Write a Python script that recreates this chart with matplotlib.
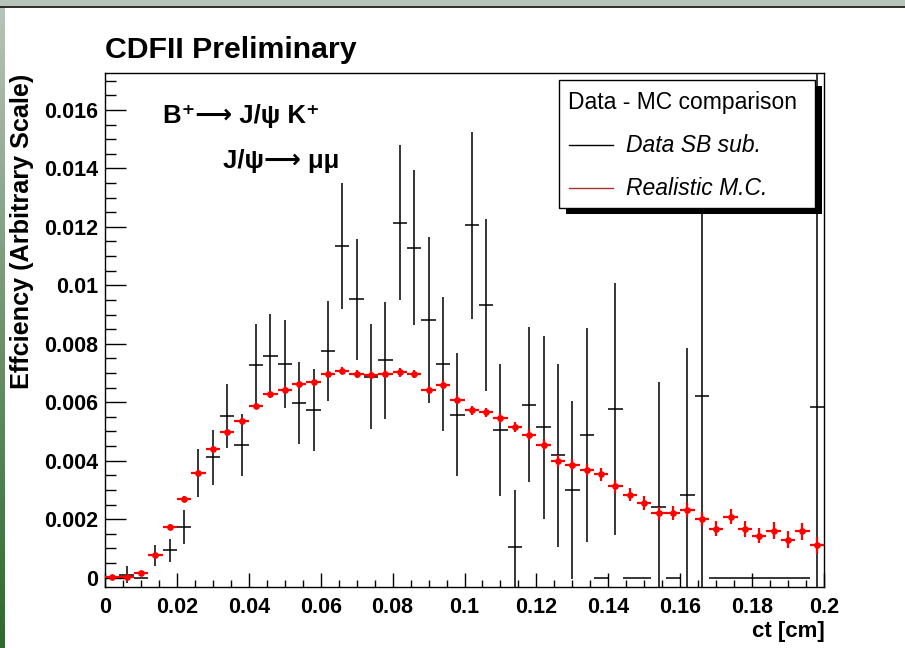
import matplotlib.pyplot as plt
import numpy as np
from matplotlib.ticker import MultipleLocator, FuncFormatter
from matplotlib.patches import Rectangle
from matplotlib.lines import Line2D
from matplotlib.colors import LinearSegmentedColormap

plt.rcParams['font.family'] = ['Liberation Sans', 'DejaVu Sans']

W, H = 905, 648

# 50 bins of ct between 0 and 0.2 cm
bin_edges = np.linspace(0, 0.2, 51)
ct = 0.5 * (bin_edges[:-1] + bin_edges[1:])
half_bin = 0.5 * (bin_edges[1] - bin_edges[0])

data_eff = [0.0, 0.0001, 0.0, 0.00076, 0.00093, 0.00173, 0.00358, 0.00412, 0.00553, 0.00454,
            0.00727, 0.00759, 0.0073, 0.00597, 0.00573, 0.00775, 0.01134, 0.00952, 0.00687, 0.00744,
            0.01214, 0.01128, 0.00882, 0.0073, 0.00557, 0.01206, 0.00933, 0.00505, 0.00104, 0.00591,
            0.00514, 0.00418, 0.003, 0.00489, 0.0, 0.00577, 0.0, 0.0, 0.0024, 0.0,
            0.00284, 0.0062, 0.0, 0.0, 0.0, 0.0, 0.0, 0.0, 0.0, 0.00585]
data_err = [0.0, 0.0003, 0.0, 0.00035, 0.0004, 0.00057, 0.00083, 0.00094, 0.0011, 0.00107,
            0.0014, 0.00143, 0.0015, 0.0014, 0.0014, 0.0017, 0.00216, 0.00208, 0.0018, 0.002,
            0.00265, 0.00265, 0.00284, 0.0023, 0.0021, 0.0032, 0.00295, 0.00225, 0.00196, 0.00265,
            0.00313, 0.00312, 0.00305, 0.00366, 0.0, 0.0043, 0.0, 0.0, 0.0043, 0.0,
            0.005, 0.0068, 0.0, 0.0, 0.0, 0.0, 0.0, 0.0, 0.0, 0.0115]

mc_eff = [0.00003, 0.00003, 0.00016, 0.00076, 0.00173, 0.0027, 0.00358, 0.00441, 0.00497, 0.00536,
          0.00587, 0.00628, 0.00643, 0.00662, 0.00668, 0.00696, 0.00708, 0.00696, 0.00694, 0.00696,
          0.00702, 0.00698, 0.00643, 0.0066, 0.00609, 0.00572, 0.00565, 0.00545, 0.00516, 0.00489,
          0.00455, 0.004, 0.00387, 0.00369, 0.00353, 0.00312, 0.00283, 0.00255, 0.0022, 0.0022,
          0.0023, 0.00201, 0.00167, 0.00209, 0.00167, 0.00144, 0.00161, 0.0013, 0.00159, 0.0011]
mc_err = [0.00003, 0.00003, 0.00005, 0.00008, 0.0001, 0.0001, 0.0001, 0.0001, 0.00011, 0.00011,
          0.00011, 0.00012, 0.00012, 0.00012, 0.00012, 0.00012, 0.00013, 0.00013, 0.00013, 0.00013,
          0.00014, 0.00014, 0.00014, 0.00015, 0.00015, 0.00016, 0.00016, 0.00017, 0.00018, 0.00018,
          0.00019, 0.0002, 0.0002, 0.00021, 0.00021, 0.00022, 0.00022, 0.00023, 0.00023, 0.00024,
          0.00024, 0.00025, 0.00026, 0.00026, 0.00027, 0.00027, 0.00028, 0.00028, 0.00029, 0.0003]


def fx(x):
    return x / W


def fy(y):
    return 1 - y / H


fig = plt.figure(figsize=(W / 100, H / 100), dpi=100)
fig.patch.set_facecolor('white')

# window decoration: grey band on top, green gradient strip on the left
fig.patches.append(Rectangle((0, fy(6)), 1, 6 / H, transform=fig.transFigure,
                             facecolor='#b7c4b7', edgecolor='none', zorder=0))
fig.lines.append(Line2D([0, 1], [fy(6.5), fy(6.5)], transform=fig.transFigure,
                        color='#1e1e1e', lw=1.3))
strip = fig.add_axes([0, 0, fx(5), fy(7)])
strip.imshow(np.linspace(0, 1, 200).reshape(-1, 1), aspect='auto',
             cmap=LinearSegmentedColormap.from_list('g', ['#b8c4b8', '#6e946e', '#2e6a2e']))
strip.axis('off')

ax = fig.add_axes([fx(105), fy(587), fx(824) - fx(105), fy(72.5) - fy(587)])
ax.errorbar(ct, data_eff, xerr=half_bin, yerr=data_err, fmt='none',
            ecolor='black', elinewidth=1.1, capsize=0, zorder=2)
ax.errorbar(ct, mc_eff, xerr=half_bin, yerr=mc_err, fmt='o', color='red',
            ms=3.8, elinewidth=1.6, capsize=0, zorder=3)

ax.set_xlim(0, 0.2)
ax.set_ylim(-0.00032, 0.01728)
ax.xaxis.set_major_locator(MultipleLocator(0.02))
ax.xaxis.set_minor_locator(MultipleLocator(0.005))
ax.yaxis.set_major_locator(MultipleLocator(0.002))
ax.yaxis.set_minor_locator(MultipleLocator(0.0005))
fmt = FuncFormatter(lambda v, p: f'{round(v, 5):g}')
ax.xaxis.set_major_formatter(fmt)
ax.yaxis.set_major_formatter(fmt)
ax.tick_params(axis='y', which='major', direction='in', length=15, width=1, pad=5)
ax.tick_params(axis='y', which='minor', direction='in', length=8, width=1)
ax.tick_params(axis='x', which='major', direction='in', length=10, width=1, pad=7)
ax.tick_params(axis='x', which='minor', direction='in', length=5, width=1)
for lab in ax.get_xticklabels() + ax.get_yticklabels():
    lab.set_fontsize(15.5)
    lab.set_fontweight('bold')
for sp in ax.spines.values():
    sp.set_linewidth(1)

fig.text(fx(105), fy(58), 'CDFII Preliminary', fontsize=21.8, fontweight='bold', va='baseline')
fig.text(fx(22), fy(74), 'Effciency (Arbitrary Scale)', fontsize=18.2, fontweight='bold',
         rotation=90, ha='center', va='top')
fig.text(fx(825), fy(637), 'ct [cm]', fontsize=16, fontweight='bold', ha='right', va='baseline')

fig.text(fx(163), fy(123), 'B\u207a\u27f6 J/\u03c8 K\u207a', fontsize=18.5, fontweight='bold', va='baseline')
fig.text(fx(223), fy(168), 'J/\u03c8\u27f6 \u03bc\u03bc', fontsize=18.5, fontweight='bold', va='baseline')

# legend box with ROOT-style shadow
fig.patches.append(Rectangle((fx(566), fy(214)), fx(822) - fx(566), fy(86) - fy(214),
                             transform=fig.transFigure, facecolor='black', edgecolor='none', zorder=5))
fig.patches.append(Rectangle((fx(559), fy(208)), fx(815) - fx(559), fy(80) - fy(208),
                             transform=fig.transFigure, facecolor='white', edgecolor='black',
                             lw=1, zorder=6))
fig.text(fx(568), fy(109), 'Data - MC comparison', fontsize=16.5, va='baseline', zorder=7)
fig.lines.append(Line2D([fx(569), fx(613)], [fy(145), fy(145)], transform=fig.transFigure,
                        color='black', lw=1, zorder=7))
fig.lines.append(Line2D([fx(569), fx(613)], [fy(188), fy(188)], transform=fig.transFigure,
                        color='#a83030', lw=1, zorder=7))
fig.text(fx(626), fy(152.5), 'Data SB sub.', fontsize=16.5, style='italic', va='baseline', zorder=7)
fig.text(fx(626), fy(195), 'Realistic M.C.', fontsize=16.5, style='italic', va='baseline', zorder=7)

fig.savefig('out.png', dpi=100)
